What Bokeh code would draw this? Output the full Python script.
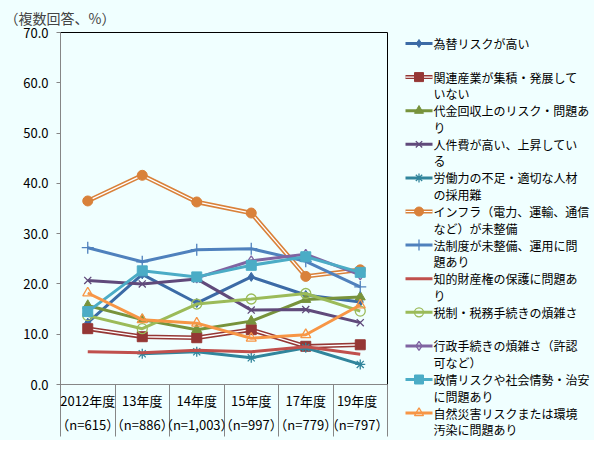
import numpy as np
from bokeh.plotting import figure
from bokeh.layouts import row
from bokeh.models import Range1d, FixedTicker, PrintfTickFormatter
from bokeh.core.properties import value
from bokeh.embed import file_html
from bokeh.resources import INLINE

# ---------------- data ----------------
categories = ["2012年度", "13年度", "14年度", "15年度", "17年度", "19年度"]
n_labels = ["（n=615）", "（n=886）", "（n=1,003）", "（n=997）", "（n=779）", "（n=797）"]
nan = float("nan")

s_fx = [12.3, 21.9, 16.2, 21.4, 17.8, 16.4]          # 為替リスクが高い
s_kanren = [11.1, 9.5, 9.3, 10.9, 7.6, 7.9]          # 関連産業
s_daikin = [15.7, 12.9, 10.9, 12.6, 16.9, 17.4]      # 代金回収
s_jinken = [20.7, 20.0, 21.0, 14.8, 14.9, 12.3]      # 人件費
s_roudou = [nan, 6.1, 6.5, 5.3, 7.3, 4.0]            # 労働力
s_infra = [36.5, 41.6, 36.3, 34.1, 21.5, 22.8]       # インフラ
s_houseido = [27.2, 24.4, 26.8, 27.0, 24.5, 19.4]    # 法制度
s_chiteki = [6.5, 6.3, 6.8, 6.5, 7.5, 6.0]           # 知的財産権
s_zeisei = [13.7, 11.1, 16.0, 17.0, 18.1, 14.6]      # 税制
s_gyosei = [nan, nan, 21.2, 24.6, 25.9, 21.8]        # 行政手続き
s_seijo = [14.5, 22.6, 21.4, 23.7, 25.4, 22.3]       # 政情
s_shizen = [18.2, 12.9, 12.2, 9.2, 9.9, 15.8]        # 自然災害

series_labels = [
    ["為替リスクが高い"],
    ["関連産業が集積・発展して", "いない"],
    ["代金回収上のリスク・問題あ", "り"],
    ["人件費が高い、上昇してい", "る"],
    ["労働力の不足・適切な人材", "の採用難"],
    ["インフラ（電力、運輸、通信", "など）が未整備"],
    ["法制度が未整備、運用に問", "題あり"],
    ["知的財産権の保護に問題あ", "り"],
    ["税制・税務手続きの煩雑さ"],
    ["行政手続きの煩雑さ（許認", "可など）"],
    ["政情リスクや社会情勢・治安", "に問題あり"],
    ["自然災害リスクまたは環境", "汚染に問題あり"],
]
series_values = [s_fx, s_kanren, s_daikin, s_jinken, s_roudou, s_infra,
                 s_houseido, s_chiteki, s_zeisei, s_gyosei, s_seijo, s_shizen]

# ---------------- styles ----------------
BG = "#F0FFFF"
FONT = "Noto Sans CJK JP"
styles = [
    dict(color="#3C6BA6", marker="diamond", size=9, fill=True, double=False),
    dict(color="#953735", marker="square", size=10, fill=True, double=True),
    dict(color="#77933C", marker="triangle", size=10, fill=True, double=False),
    dict(color="#604A7B", marker="x", size=10, fill=False, double=False),
    dict(color="#31859C", marker="asterisk", size=10, fill=False, double=False),
    dict(color="#D9813A", marker="circle", size=10, fill=True, double=True),
    dict(color="#4F81BD", marker="cross", size=12, fill=False, double=False),
    dict(color="#C0504D", marker=None, size=0, fill=False, double=False),
    dict(color="#9BBB59", marker="circle", size=10, fill=False, double=False),
    dict(color="#8064A2", marker="diamond", size=10, fill=False, double=False),
    dict(color="#4BACC6", marker="square", size=10, fill=True, double=False),
    dict(color="#F79646", marker="triangle", size=10, fill=False, double=False),
]

xs = np.arange(len(categories)) + 0.5

p = figure(frame_width=327, frame_height=352, output_backend="svg", toolbar_location=None,
           x_range=Range1d(0, len(categories)), y_range=Range1d(0, 70),
           min_border_left=60, min_border_right=1, min_border_top=25, min_border_bottom=0,
           background_fill_color=BG, border_fill_color=BG)
p.frame_align = False

p.grid.visible = False
p.outline_line_color = "black"
p.outline_line_width = 1

# title
p.title.text = "（複数回答、%）"
p.title.text_font = FONT
p.title.text_font_size = "14px"
p.title.text_font_style = "normal"
p.title.align = "left"
p.title.offset = -56

# y axis
p.yaxis.ticker = FixedTicker(ticks=list(range(0, 71, 10)))
p.yaxis.formatter = PrintfTickFormatter(format="%.1f")
p.yaxis.axis_line_color = "#868686"
p.yaxis.major_tick_line_color = "#868686"
p.yaxis.major_tick_out = 4
p.yaxis.major_tick_in = 0
p.yaxis.minor_tick_line_color = None
p.yaxis.major_label_text_font = FONT
p.yaxis.major_label_text_font_size = "13px"
p.yaxis.major_label_text_color = "black"
p.yaxis.major_label_standoff = 8

# x axis
p.xaxis.ticker = FixedTicker(ticks=[float(x) for x in xs],
                             minor_ticks=list(range(len(categories) + 1)))
p.xaxis.major_label_overrides = {float(x): f"{c}\n{n}" for x, c, n in zip(xs, categories, n_labels)}
p.xaxis.axis_line_color = "#868686"
p.xaxis.major_tick_line_color = None
p.xaxis.major_tick_out = 0
p.xaxis.major_tick_in = 0
p.xaxis.minor_tick_line_color = "#868686"
p.xaxis.minor_tick_out = 52
p.xaxis.minor_tick_in = 0
p.xaxis.major_label_text_font = FONT
p.xaxis.major_label_text_font_size = "13px"
p.xaxis.major_label_text_color = "black"
p.xaxis.major_label_text_line_height = 1.3
p.xaxis.major_label_standoff = -46

# legend panel (separate figure, pixel coordinates, y downwards)
LW, LH = 206, 440
leg = figure(width=LW, height=LH, output_backend="svg", toolbar_location=None,
             x_range=Range1d(0, LW), y_range=Range1d(LH, 0),
             min_border=0, background_fill_color=BG, border_fill_color=BG)
leg.frame_align = False
leg.axis.visible = False
leg.grid.visible = False
leg.outline_line_color = None

G0, G1, TX = 17, 44, 45
Y0, STEP, LINE = 43, 33.6, 16.5


def marker_kwargs(st):
    if st["fill"]:
        return dict(marker=st["marker"], size=st["size"], line_color=st["color"],
                    fill_color=st["color"], line_width=1)
    return dict(marker=st["marker"], size=st["size"], line_color=st["color"],
                fill_color=None, line_width=1.3)


for i, (lab, vals, st) in enumerate(zip(series_labels, series_values, styles)):
    y = np.array(vals, dtype=float)
    ly = Y0 + STEP * i
    if st["double"]:
        p.line(xs, y, line_color=st["color"], line_width=4.5)
        p.line(xs, y, line_color="white", line_width=1.3)
        leg.line([G0, G1], [ly, ly], line_color=st["color"], line_width=4)
        leg.line([G0, G1], [ly, ly], line_color="white", line_width=1.2)
    else:
        p.line(xs, y, line_color=st["color"], line_width=3)
        leg.line([G0, G1], [ly, ly], line_color=st["color"], line_width=3)
    if st["marker"]:
        p.scatter(xs, y, **marker_kwargs(st))
        kw = marker_kwargs(st)
        kw["size"] = kw["size"] - 1
        leg.scatter([(G0 + G1) / 2], [ly], **kw)
    leg.text([TX] * len(lab), [ly + LINE * k for k in range(len(lab))], text=lab,
             text_font=value(FONT), text_font_size="12px", text_baseline="middle",
             text_align="left", text_color="black")

layout = row(p, leg, background=BG)
open("out.html", "w").write(file_html(layout, INLINE))
